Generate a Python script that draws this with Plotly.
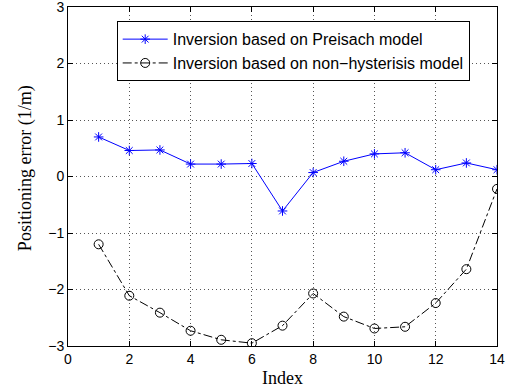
import plotly.graph_objects as go

index = list(range(1, 15))
preisach = [0.70, 0.46, 0.47, 0.22, 0.22, 0.23, -0.61, 0.07, 0.27, 0.40, 0.42, 0.12, 0.24, 0.12]
nonhyst = [-1.20, -2.11, -2.41, -2.73, -2.89, -2.95, -2.64, -2.07, -2.48, -2.69, -2.66, -2.24, -1.64, -0.22]

name1 = "Inversion based on Preisach model"
name2 = "Inversion based on non\u2212hysterisis model"
xlabel = "Index"
ylabel = "Positioning error (1/m)"

fig = go.Figure()
fig.add_trace(go.Scatter(
    x=index, y=preisach, mode="lines+markers", name=name1,
    line=dict(color="#0000ff", width=1),
    marker=dict(symbol="asterisk-open", size=8, color="#0000ff", line=dict(color="#0000ff", width=1)),
))
fig.add_trace(go.Scatter(
    x=index, y=nonhyst, mode="lines+markers", name=name2,
    line=dict(color="black", width=1, dash="dashdot"),
    marker=dict(symbol="circle-open", size=9, color="black", line=dict(color="black", width=1)),
))

axis_common = dict(
    showline=True, linecolor="black", linewidth=1, mirror="ticks",
    ticks="inside", ticklen=5, tickcolor="black",
    showgrid=True, gridcolor="#555555", griddash="1px,3px", gridwidth=1,
    zeroline=False, ticklabeloverflow="allow", automargin=False,
    tickfont=dict(family="Liberation Sans, Arial", size=14, color="black"),
)

fig.update_xaxes(range=[0, 14], tickvals=list(range(0, 15, 2)), **axis_common)
fig.update_yaxes(range=[-3, 3], tickvals=list(range(-3, 4)),
                 ticktext=["\u22123", "\u22122", "\u22121", "0", "1", "2", "3"],
                 **axis_common)

serif = dict(family="Liberation Serif, Times New Roman", size=18, color="black")
fig.add_annotation(text=xlabel, xref="paper", yref="paper", x=0.5, y=-0.095,
                   xanchor="center", yanchor="middle", showarrow=False, font=serif)
fig.add_annotation(text=ylabel, xref="paper", yref="paper", x=-0.1, y=0.525,
                   xanchor="center", yanchor="middle", showarrow=False, textangle=-90, font=serif)

fig.update_layout(
    width=513, height=389,
    margin=dict(l=68, r=16, t=7, b=43, autoexpand=False),
    paper_bgcolor="white", plot_bgcolor="white",
    legend=dict(
        x=0.1135, y=0.958, xanchor="left", yanchor="top",
        bgcolor="white", bordercolor="black", borderwidth=1,
        font=dict(family="Liberation Sans, Arial", size=16, color="black"),
        tracegroupgap=0, itemwidth=45,
    ),
)

fig.write_html("out.html")
